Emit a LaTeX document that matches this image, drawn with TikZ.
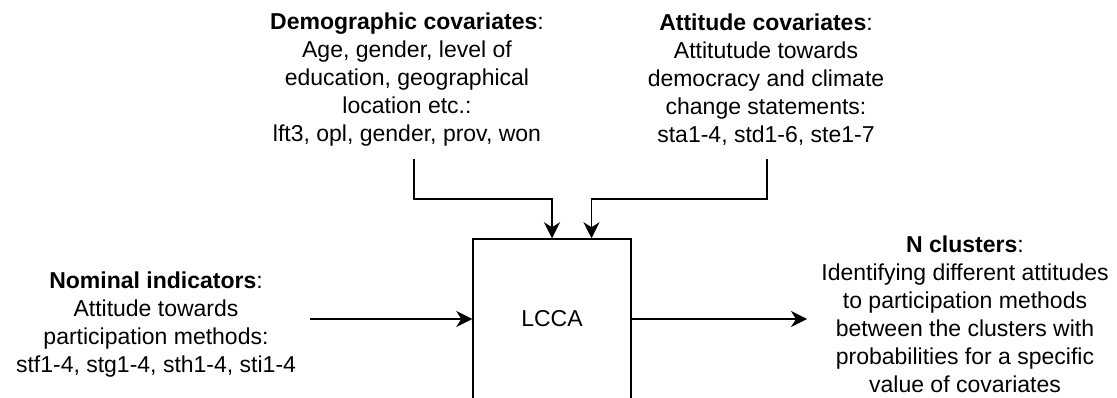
\documentclass[tikz,border=0pt]{standalone}
\usepackage{fontspec}
\setmainfont{Liberation Sans}
\usetikzlibrary{arrows.meta}
\begin{document}
\begin{tikzpicture}[x=1pt,y=1pt,
  txt/.style={align=center, inner sep=0pt, font=\fontsize{23}{28}\selectfont},
  block/.style={draw, line width=1.5pt, minimum width=158pt, minimum height=160pt,
                inner sep=0pt, font=\fontsize{23}{28}\selectfont},
  arr/.style={line width=1.5pt, -{Stealth[length=16pt,width=16pt,inset=5pt]}}]
\useasboundingbox (0,0) rectangle (1117,397);

% central model box (its lower edge runs off the page)
\node[block] (lcca) at (552,78) {LCCA};

% inputs and output
\node[txt] (demo) at (407,317) {\textbf{Demographic covariates}:\\Age, gender, level of\\education, geographical\\location etc.:\\lft3, opl, gender, prov, won};
\node[txt] (att) at (766,317) {\textbf{Attitude covariates}:\\Attitutude towards\\democracy and climate\\change statements:\\sta1-4, std1-6, ste1-7};
\node[txt] (nom) at (156,72) {\textbf{Nominal indicators}:\\Attitude towards\\participation methods:\\stf1-4, stg1-4, sth1-4, sti1-4};
\node[txt] (ncl) at (965,83) {\textbf{N clusters}:\\Identifying different attitudes\\to participation methods\\between the clusters with\\probabilities for a specific\\value of covariates};

% connector end points
\coordinate (dstart) at (414,238);
\coordinate (astart) at (767,238);
\coordinate (nstart) at (310,78);
\coordinate (cend) at (807,78);

% connectors
\draw[arr] (dstart) -- ++(0,-40) -| (lcca.north);
\draw[arr] (astart) -- ++(0,-40) -| ([xshift=39.5pt]lcca.north);
\draw[arr] (nstart) -- (lcca.west);
\draw[arr] (lcca.east) -- (cend);
\end{tikzpicture}
\end{document}
